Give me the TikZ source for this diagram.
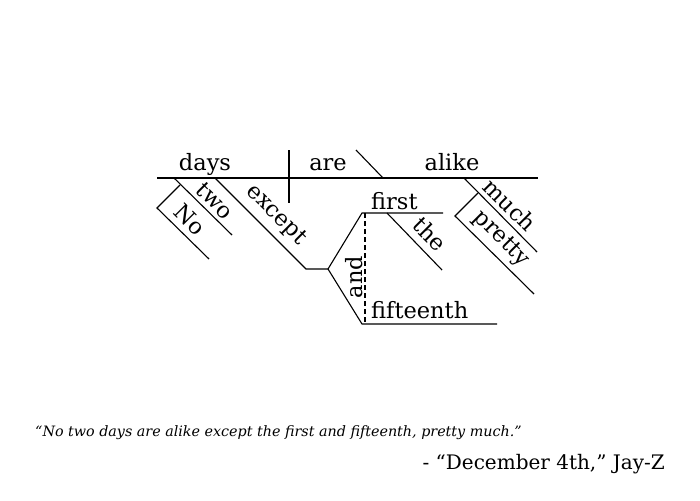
\documentclass[tikz,border=0pt]{standalone}
\usepackage{fontspec}
\setmainfont{DejaVu Serif}
\begin{document}
\begin{tikzpicture}[x=1pt,y=-1pt,
  ln/.style={line width=1.1pt, line cap=butt},
  wd/.style={font=\fontsize{22.5}{22.5}\selectfont, inner sep=0pt},
  rw/.style={wd, rotate=-45},
]
\useasboundingbox (0,0) rectangle (700,500);
% coordinates
\coordinate (bL) at (157,178);
\coordinate (bR) at (538,178);
\coordinate (vT) at (289,150);
\coordinate (vB) at (289,203);
\coordinate (sT) at (356,150);
\coordinate (sB) at (383,178);
\coordinate (twoA) at (174,178);
\coordinate (twoB) at (232,235);
\coordinate (noA) at (180,185);
\coordinate (noK) at (157,208);
\coordinate (noB) at (209,259);
\coordinate (exA) at (215,178);
\coordinate (exB) at (306,269);
\coordinate (fork) at (328,269);
\coordinate (fT) at (362,213);
\coordinate (fTR) at (443,213);
\coordinate (fB) at (362,324);
\coordinate (fBR) at (497,324);
\coordinate (dT) at (365,213);
\coordinate (dB) at (365,324);
\coordinate (theA) at (387,213);
\coordinate (theB) at (442,270);
\coordinate (muA) at (464,178);
\coordinate (muB) at (537,252);
\coordinate (prA) at (478,193);
\coordinate (prK) at (455,216);
\coordinate (prB) at (534,294);
% lines
\draw[ln] (bL) -- (bR);
\draw[ln] (vT) -- (vB);
\draw[ln] (sT) -- (sB);
\draw[ln] (twoA) -- (twoB);
\draw[ln] (noA) -- (noK) -- (noB);
\draw[ln] (exA) -- (exB) -- (fork);
\draw[ln] (fTR) -- (fT) -- (fork) -- (fB) -- (fBR);
\draw[ln, dash pattern=on 5pt off 3pt] (dT) -- (dB);
\draw[ln] (theA) -- (theB);
\draw[ln] (muA) -- (muB);
\draw[ln] (prA) -- (prK) -- (prB);
% words
\node[wd, anchor=base] (days) at (205,170) {days};
\node[wd, anchor=base] (are) at (328,170) {are};
\node[wd, anchor=base] (alike) at (452,170) {alike};
\node[wd, anchor=base west] (first) at (371,209) {first};
\node[wd, anchor=base west] (fifteenth) at (371,318) {fifteenth};
\node[rw] (two) at (215,201) {two};
\node[rw] (No) at (190,220) {No};
\node[rw] (except) at (276,215) {except};
\node[rw] (the) at (430,234) {the};
\node[rw] (much) at (510,205) {much};
\node[rw] (pretty) at (501,239) {pretty};
\node[wd, rotate=90] (and) at (354,277) {and};
% quote
\node[anchor=base west, inner sep=0pt, font=\itshape\fontsize{14.3}{14.3}\selectfont] (quote) at (35,436) {“No two days are alike except the first and fifteenth, pretty much.”};
\node[anchor=base east, inner sep=0pt, font=\fontsize{20}{20}\selectfont] (attr) at (665,469) {- “December 4th,” Jay-Z};
\end{tikzpicture}
\end{document}
